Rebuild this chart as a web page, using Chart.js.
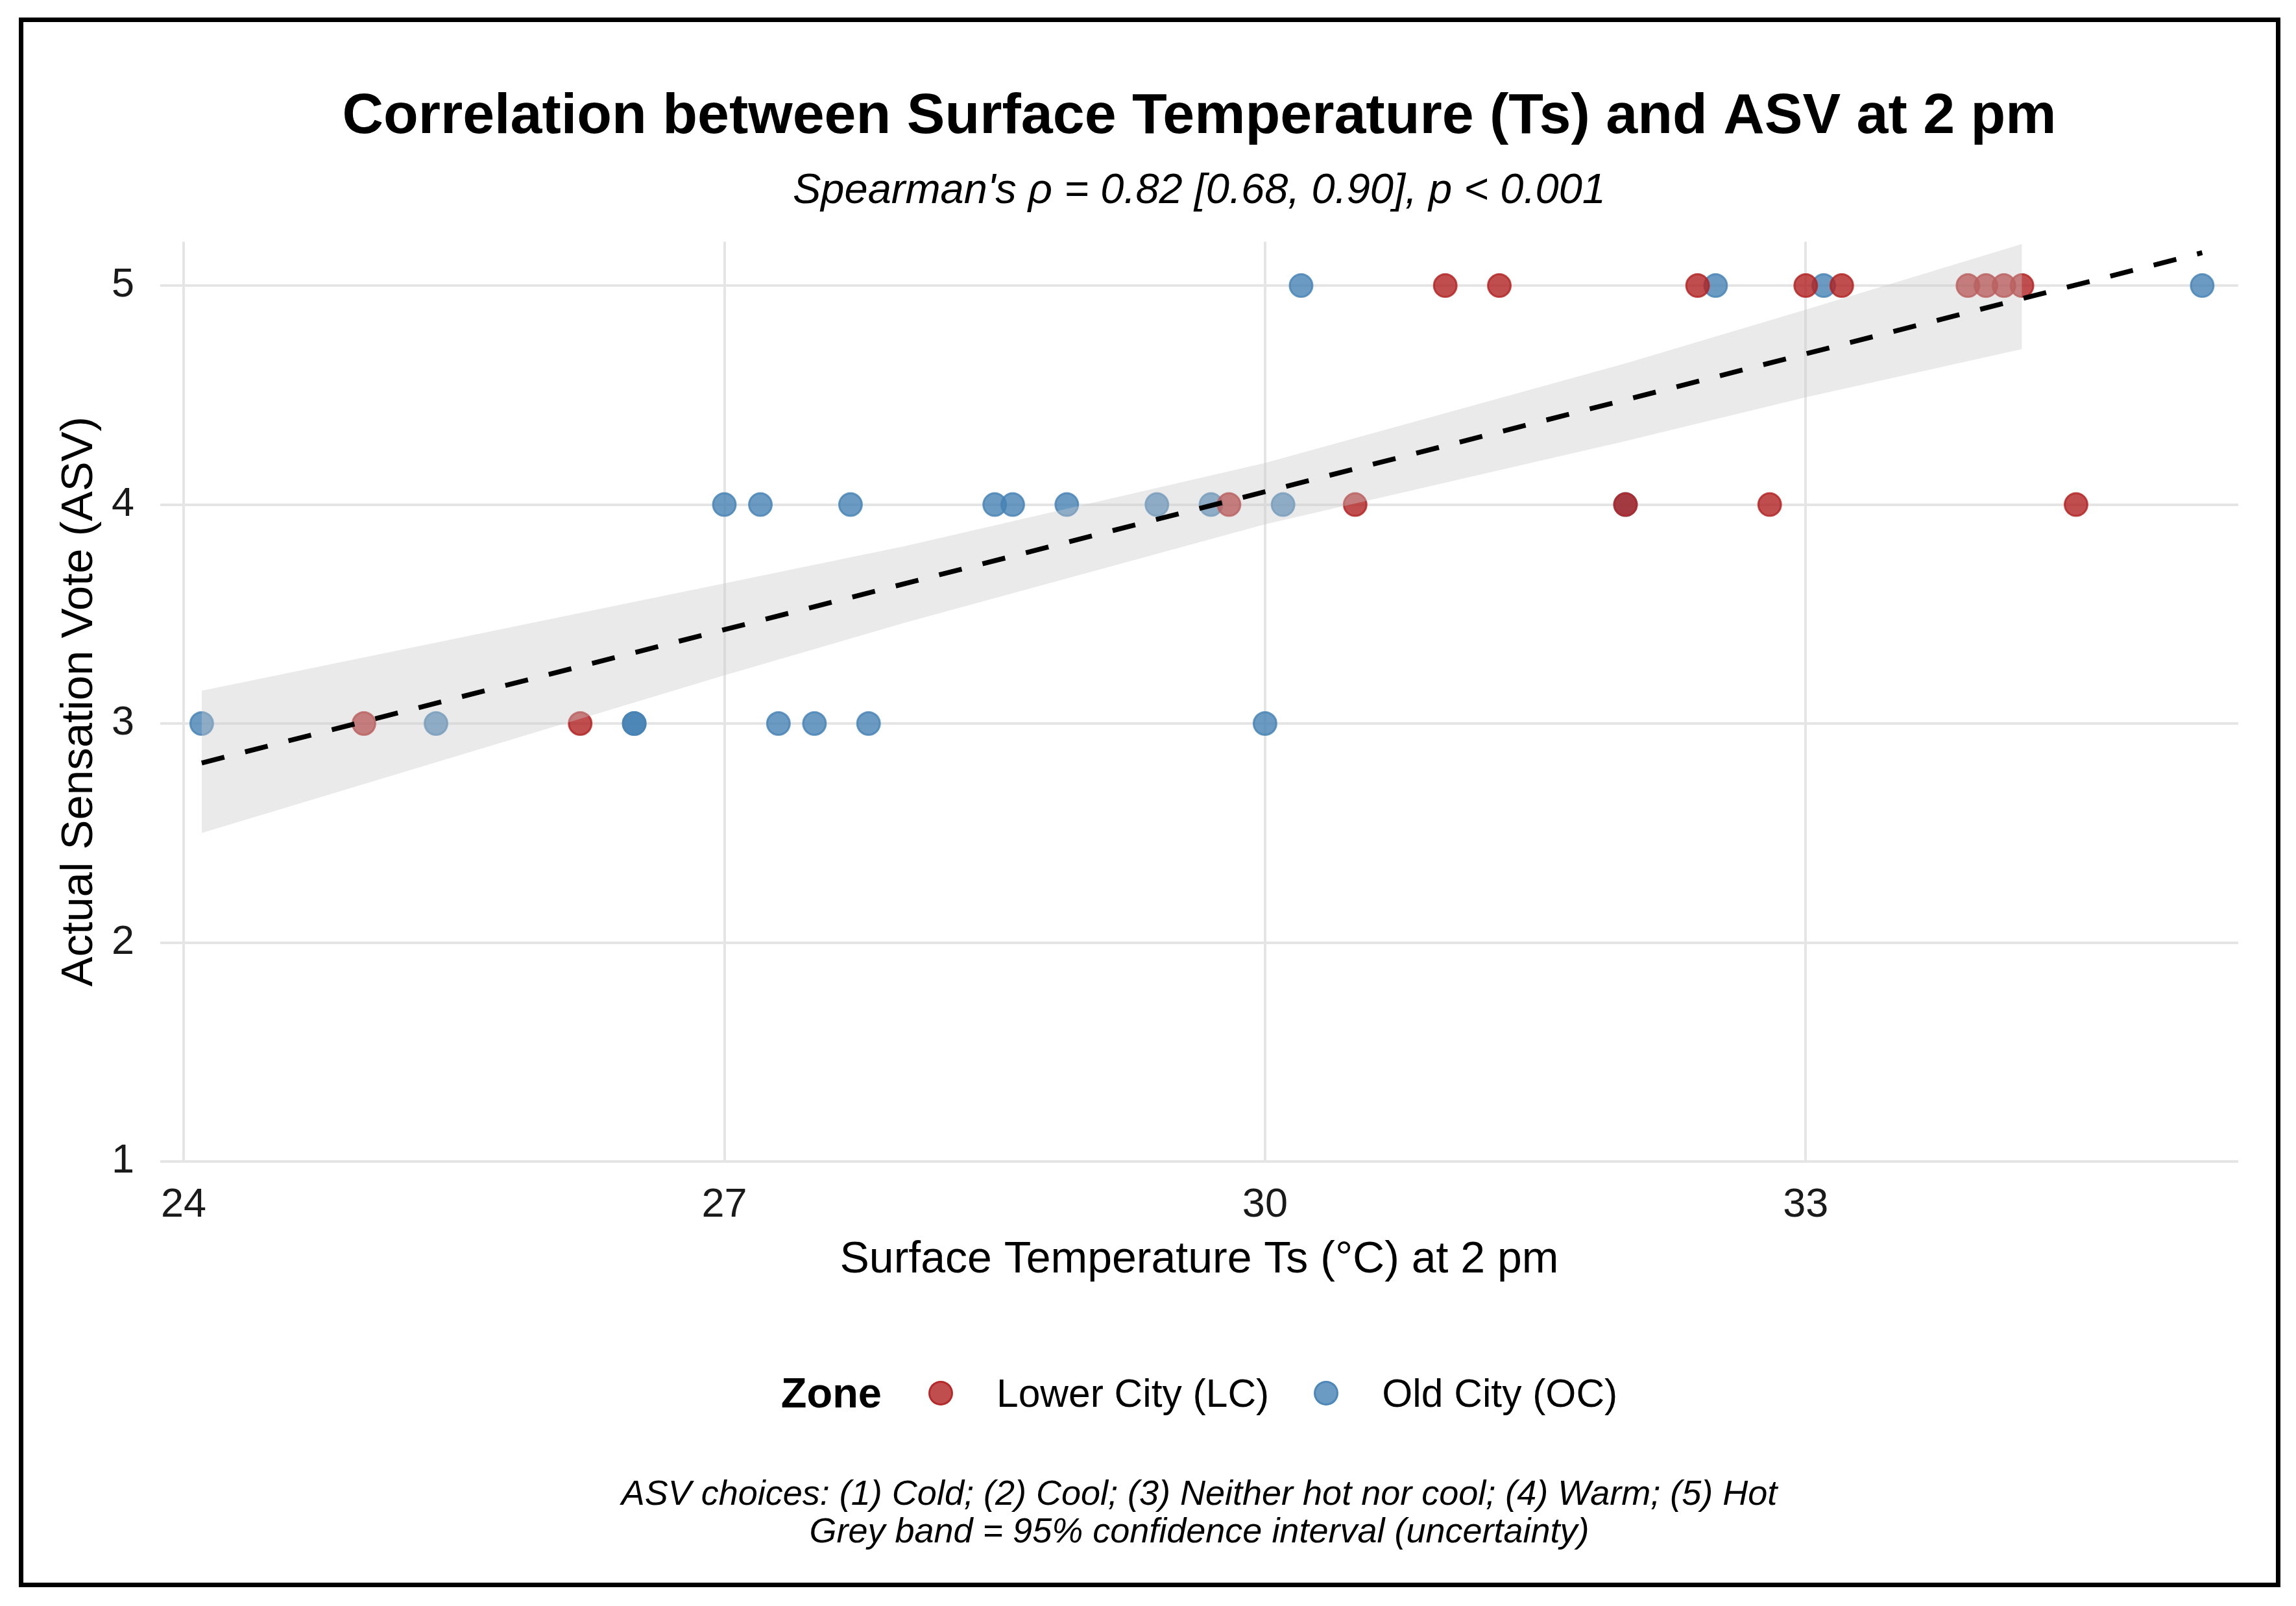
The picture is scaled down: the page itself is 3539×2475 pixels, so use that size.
<!DOCTYPE html>
<html>
<head>
<meta charset="utf-8">
<title>Ts vs ASV at 2 pm</title>
<script src="https://cdn.jsdelivr.net/npm/chart.js@4.4.1/dist/chart.umd.min.js"></script>
<style>
  html, body { margin: 0; padding: 0; background: #fff; overflow: hidden; }
  body { width: 3539px; height: 2475px; position: relative; font-family: 'Liberation Sans', Arial, sans-serif; }
  #wrap { position: absolute; left: 0; top: 0; width: 3539px; height: 2475px; }
  #frame { position: absolute; left: 29px; top: 27px; width: 3486px; height: 2419px;
           border: 7px solid #000; box-sizing: border-box; pointer-events: none; }
  #legend { position: absolute; left: 247px; width: 3203px; top: 2107px; height: 80px;
            display: flex; align-items: center; justify-content: center; line-height: 80px; color: #000; }
  #legend .title { font-weight: bold; font-size: 65px; margin-right: 72px; }
  #legend .dot { width: 38px; height: 38px; border-radius: 50%; box-sizing: border-box; margin-right: 67px; }
  #legend .lab { font-size: 60.5px; margin-right: 69px; }
  #legend .lab:last-child { margin-right: 0; }
  #caption { position: absolute; left: 247px; width: 3203px; top: 2271px; text-align: center;
             font-style: italic; font-size: 54px; line-height: 58px; color: #000; }
</style>
</head>
<body>
<div id="wrap"><canvas id="asvChart"></canvas></div>
<div id="legend">
  <span class="title">Zone</span>
  <span class="dot" id="dotLC"></span><span class="lab">Lower City (LC)</span>
  <span class="dot" id="dotOC"></span><span class="lab">Old City (OC)</span>
</div>
<div id="caption">ASV choices: (1) Cold; (2) Cool; (3) Neither hot nor cool; (4) Warm; (5) Hot<br>Grey band = 95% confidence interval (uncertainty)</div>
<div id="frame"></div>
<script>
// Lower City (LC) respondents
const lcTemp = [25.0, 26.2, 29.8, 30.5, 32.0, 32.8, 34.5, 31.0, 31.3, 32.4, 33.0, 33.2, 33.9, 34.0, 34.1, 34.2];
const lcAsv  = [3, 3, 4, 4, 4, 4, 4, 5, 5, 5, 5, 5, 5, 5, 5, 5];

// Old City (OC) respondents
const ocTemp = [24.1, 25.4, 26.5, 26.5, 27.3, 27.5, 27.8, 30.0, 27.0, 27.2, 27.7, 28.5, 28.6, 28.9, 29.4, 29.7, 30.1, 32.0, 30.2, 32.5, 33.1, 35.2];
const ocAsv  = [3, 3, 3, 3, 3, 3, 3, 3, 4, 4, 4, 4, 4, 4, 4, 4, 4, 4, 5, 5, 5, 5];

// fitted trend and its 95% band
const fitX = [24.1, 35.2];
const fitY = [2.82, 5.15];
const bandX  = [24.1, 27.0, 28.0, 30.0, 32.0, 33.0, 34.2];
const bandHi = [3.15, 3.64, 3.81, 4.19, 4.645, 4.89, 5.19];
const bandLo = [2.50, 3.22, 3.46, 3.91, 4.29, 4.49, 4.71];

const xTicks = [24, 27, 30, 33];
const yTicks = [1, 2, 3, 4, 5];

const RED = 'rgba(178,34,34,0.8)';
const BLUE = 'rgba(70,130,180,0.8)';

const pts = (xs, ys) => xs.map((x, i) => ({ x: x, y: ys[i] }));

document.getElementById('dotLC').style.cssText = 'background:' + RED + ';border:3px solid ' + RED;
document.getElementById('dotOC').style.cssText = 'background:' + BLUE + ';border:3px solid ' + BLUE;

Chart.defaults.font.family = "'Liberation Sans', Arial, sans-serif";
Chart.defaults.color = '#000';

const ctx = document.getElementById('asvChart').getContext('2d');
new Chart(ctx, {
  type: 'scatter',
  data: {
    datasets: [
      {
        type: 'line',
        label: 'fit',
        data: pts(fitX, fitY),
        borderColor: '#000',
        borderWidth: 7.5,
        borderDash: [36, 33],
        pointRadius: 0,
        fill: false,
        order: 0
      },
      {
        type: 'line',
        label: 'upper',
        data: pts(bandX, bandHi),
        borderWidth: 0,
        pointRadius: 0,
        backgroundColor: 'rgba(200,200,200,0.38)',
        fill: '+1',
        order: 1
      },
      {
        type: 'line',
        label: 'lower',
        data: pts(bandX, bandLo),
        borderWidth: 0,
        pointRadius: 0,
        fill: false,
        order: 1
      },
      {
        label: 'Lower City (LC)',
        data: pts(lcTemp, lcAsv),
        backgroundColor: RED,
        borderColor: RED,
        borderWidth: 3,
        pointRadius: 17.5,
        order: 2
      },
      {
        label: 'Old City (OC)',
        data: pts(ocTemp, ocAsv),
        backgroundColor: BLUE,
        borderColor: BLUE,
        borderWidth: 3,
        pointRadius: 17.5,
        order: 3
      }
    ]
  },
  options: {
    responsive: true,
    maintainAspectRatio: false,
    animation: false,
    events: [],
    layout: { padding: { left: 0, top: 0, right: 89, bottom: 492.2 } },
    plugins: {
      legend: { display: false },
      tooltip: { enabled: false },
      title: {
        display: true,
        fullSize: false,
        text: 'Correlation between Surface Temperature (Ts) and ASV at 2 pm',
        font: { size: 88, weight: 'bold' },
        color: '#000',
        padding: { top: 128, bottom: 0 }
      },
      subtitle: {
        display: true,
        fullSize: false,
        text: "Spearman's ρ = 0.82 [0.68, 0.90], p < 0.001",
        font: { size: 65, style: 'italic' },
        color: '#000',
        padding: { top: 22, bottom: 39 }
      }
    },
    scales: {
      x: {
        type: 'linear',
        min: 23.87,
        max: 35.4,
        afterBuildTicks: s => { s.ticks = xTicks.map(v => ({ value: v })); },
        afterFit: s => { s.height = 192.8; },
        grid: { color: '#e5e5e5', lineWidth: 4, drawTicks: false },
        border: { display: false },
        ticks: { font: { size: 63 }, color: '#1a1a1a', padding: 30 },
        title: {
          display: true,
          text: 'Surface Temperature Ts (°C) at 2 pm',
          font: { size: 68 },
          color: '#000',
          padding: { top: 0, bottom: 0 }
        }
      },
      y: {
        type: 'linear',
        min: 1,
        max: 5.2,
        afterBuildTicks: s => { s.ticks = yTicks.map(v => ({ value: v })); },
        afterFit: s => { s.width = 247; },
        grid: { color: '#e5e5e5', lineWidth: 4, drawTicks: false },
        border: { display: false },
        ticks: { font: { size: 63 }, color: '#1a1a1a', padding: 40 },
        title: {
          display: true,
          text: 'Actual Sensation Vote (ASV)',
          font: { size: 69 },
          color: '#000',
          padding: { top: 82, bottom: 0 }
        }
      }
    }
  }
});
</script>
</body>
</html>
